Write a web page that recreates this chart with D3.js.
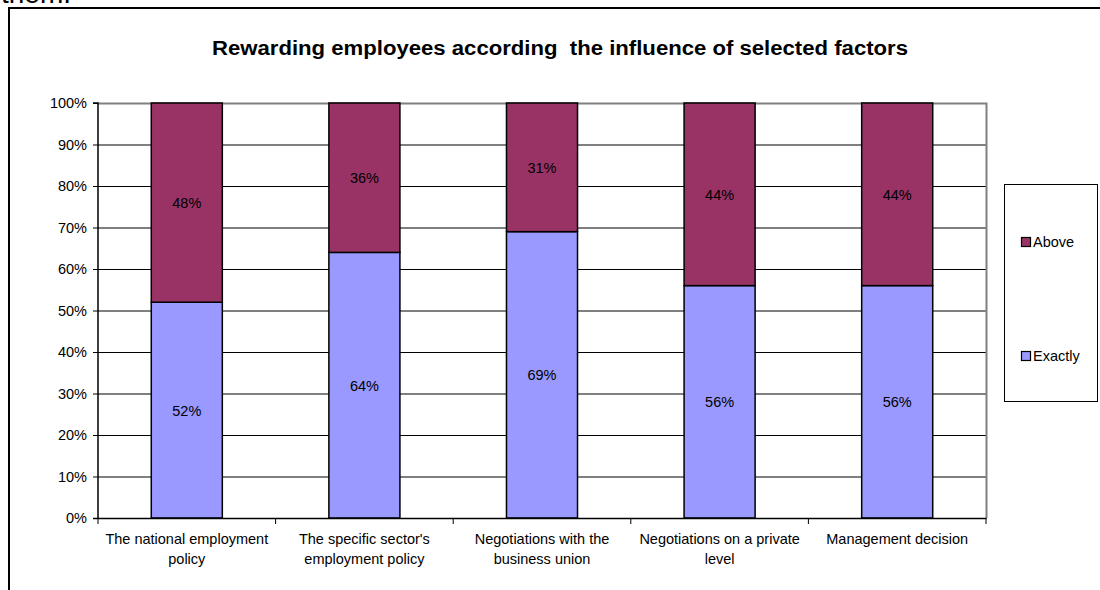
<!DOCTYPE html>
<html>
<head>
<meta charset="utf-8">
<script src="https://cdn.jsdelivr.net/npm/d3@7"></script>
<style>
  html, body { margin: 0; padding: 0; background: #fff; }
  svg { display: block; font-family: Arial, "Liberation Sans", sans-serif; }
</style>
</head>
<body>
<svg id="chart" width="1100" height="590"></svg>
<script>
// Chart data
const categories = [
  ["The national employment", "policy"],
  ["The specific sector's", "employment policy"],
  ["Negotiations with the", "business union"],
  ["Negotiations on a private", "level"],
  ["Management decision"]
];
const exactly = [52, 64, 69, 56, 56];
const above = [48, 36, 31, 44, 44];
const seriesNames = ["Exactly", "Above"];
const seriesColors = ["#9999FF", "#993366"];
const yTicks = [0, 10, 20, 30, 40, 50, 60, 70, 80, 90, 100];
const titleText = "Rewarding employees according\u00A0 the influence of selected factors";

const FONT = 14.5;
const svg = d3.select("#chart");

// Trailing text of the preceding paragraph, cut off at the top edge
svg.append("text").attr("x", 1).attr("y", 3)
  .attr("font-size", 28).attr("fill", "#000").text("them.");

// Outer chart frame
svg.append("path")
  .attr("d", "M9,600 V8 H1110")
  .attr("fill", "none").attr("stroke", "#000").attr("stroke-width", 2);

// Title
svg.append("text")
  .attr("x", 560).attr("y", 55)
  .attr("text-anchor", "middle")
  .attr("font-size", 20).attr("font-weight", "bold")
  .attr("textLength", 696).attr("lengthAdjust", "spacingAndGlyphs")
  .text(titleText);

const plot = { left: 98, right: 986, top: 103, bottom: 518 };

const x = d3.scaleBand()
  .domain(d3.range(categories.length))
  .range([plot.left, plot.right])
  .paddingInner(0.6).paddingOuter(0.3);

const y = d3.scaleLinear().domain([0, 100]).range([plot.bottom, plot.top]);

// Horizontal gridlines
svg.append("g").selectAll("line")
  .data(yTicks.filter(t => t > 0 && t < 100))
  .join("line")
  .attr("x1", plot.left).attr("x2", plot.right)
  .attr("y1", d => y(d) + 0.5).attr("y2", d => y(d) + 0.5)
  .attr("stroke", "#000").attr("stroke-width", 1);

// Plot-area border (top and right)
svg.append("path")
  .attr("d", `M${plot.left},${plot.top + 0.5} H${plot.right + 0.5} V${plot.bottom}`)
  .attr("fill", "none").attr("stroke", "#808080").attr("stroke-width", 2);

// Stacked bars
const rows = categories.map((c, i) => ({ i, Exactly: exactly[i], Above: above[i] }));
const stacked = d3.stack().keys(seriesNames)(rows);

const layers = svg.append("g").selectAll("g")
  .data(stacked).join("g")
  .attr("fill", (d, k) => seriesColors[k]);

layers.selectAll("rect")
  .data(d => d)
  .join("rect")
  .attr("x", d => x(d.data.i))
  .attr("width", x.bandwidth())
  .attr("y", d => y(d[1]))
  .attr("height", d => y(d[0]) - y(d[1]))
  .attr("stroke", "#000").attr("stroke-width", 1.5);

// Value labels centred in each segment
layers.selectAll("text")
  .data(d => d)
  .join("text")
  .attr("x", d => x(d.data.i) + x.bandwidth() / 2)
  .attr("y", d => y((d[0] + d[1]) / 2) + 5.5)
  .attr("text-anchor", "middle")
  .attr("font-size", FONT).attr("fill", "#000")
  .text(d => Math.round(d[1] - d[0]) + "%");

// Y axis
const yAxis = d3.axisLeft(y).tickValues(yTicks).tickSize(5)
  .tickFormat(d => d + "%");
const gy = svg.append("g").attr("transform", `translate(${plot.left},0)`).call(yAxis);
gy.select(".domain").attr("stroke", "#000").attr("stroke-width", 1.5)
  .attr("d", `M-5,${plot.top} H0 V${plot.bottom}`);
gy.selectAll(".tick line").attr("stroke", "#000");
gy.selectAll(".tick text").attr("font-size", FONT).attr("font-family", "Arial, 'Liberation Sans', sans-serif")
  .attr("fill", "#000").attr("x", -11);

// X axis: baseline with ticks at category boundaries
const step = (plot.right - plot.left) / categories.length;
const boundaries = d3.range(categories.length + 1).map(i => plot.left + i * step);
svg.append("line")
  .attr("x1", plot.left - 5).attr("x2", plot.right + 0.5)
  .attr("y1", plot.bottom + 0.5).attr("y2", plot.bottom + 0.5)
  .attr("stroke", "#000").attr("stroke-width", 1.5);
svg.append("g").selectAll("line")
  .data(boundaries).join("line")
  .attr("x1", d => d).attr("x2", d => d)
  .attr("y1", plot.bottom).attr("y2", plot.bottom + 6)
  .attr("stroke", "#000");

// Category labels
svg.append("g").selectAll("text")
  .data(categories).join("text")
  .attr("x", (d, i) => x(i) + x.bandwidth() / 2)
  .attr("y", 544)
  .attr("text-anchor", "middle")
  .attr("font-size", FONT).attr("fill", "#000")
  .selectAll("tspan")
  .data(d => d).join("tspan")
  .attr("x", function () { return this.parentNode.getAttribute("x"); })
  .attr("dy", (d, j) => j === 0 ? 0 : 19.5)
  .text(d => d);

// Legend
const legend = svg.append("g");
legend.append("rect")
  .attr("x", 1004.5).attr("y", 184.5).attr("width", 93).attr("height", 217)
  .attr("fill", "#fff").attr("stroke", "#000");
const legendItems = [
  { name: "Above", color: seriesColors[1], y: 242 },
  { name: "Exactly", color: seriesColors[0], y: 356 }
];
legendItems.forEach(item => {
  legend.append("rect")
    .attr("x", 1021.5).attr("y", item.y - 4.5).attr("width", 9).attr("height", 9)
    .attr("fill", item.color).attr("stroke", "#000").attr("stroke-width", 1.2);
  legend.append("text")
    .attr("x", 1033).attr("y", item.y + 5)
    .attr("font-size", FONT).attr("fill", "#000")
    .text(item.name);
});
</script>
</body>
</html>
